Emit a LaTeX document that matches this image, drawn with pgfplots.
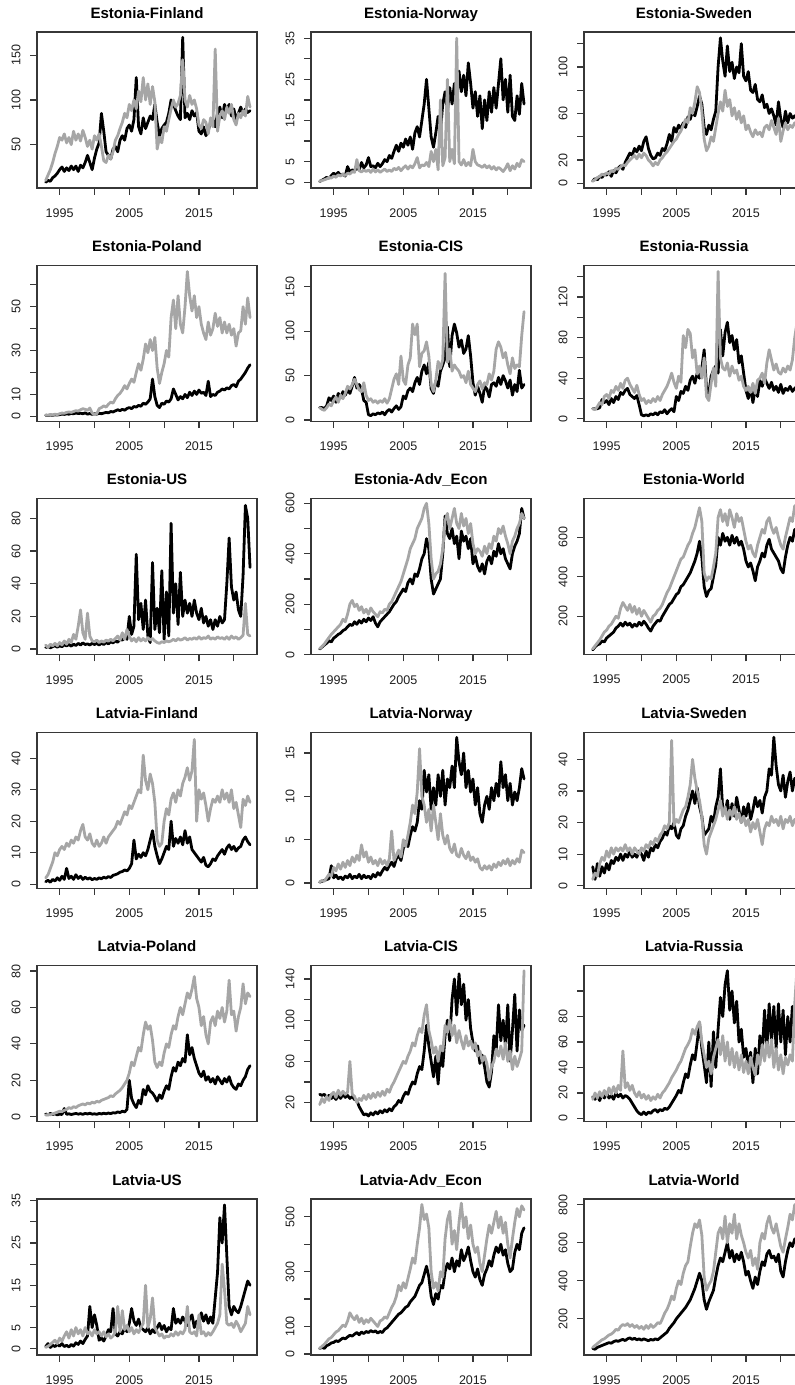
\documentclass[border=0pt]{standalone}
\usepackage{fontspec}
\setmainfont{Liberation Sans}
\usepackage{pgfplots}
\usepackage{pgfplotstable}
\pgfplotsset{compat=1.18}
\definecolor{lgray}{RGB}{166,166,166}
\definecolor{frm}{RGB}{55,55,55}

% t = months since Jan 1993; a = black series; b = grey series
\pgfplotstableread{
t a b
0 8 10
4 10 16
8 9 22
12 13 30
16 15 40
20 18 48
24 22 58
28 25 55
32 20 62
36 24 52
40 21 58
44 26 50
48 22 65
52 26 55
56 20 62
60 27 54
64 24 66
68 30 58
72 38 48
76 30 55
80 22 45
84 35 60
88 45 55
92 52 62
96 85 48
100 65 32
104 42 30
108 38 38
112 34 34
116 45 42
120 48 55
124 42 60
128 55 68
132 60 75
136 55 85
140 68 80
144 72 95
148 65 88
152 78 100
156 125 90
160 70 110
164 62 98
168 80 125
172 68 100
176 75 118
180 82 95
184 78 115
188 95 98
192 75 45
196 60 58
200 68 52
204 72 70
208 75 65
212 85 78
216 100 90
220 95 100
224 88 92
228 82 96
232 78 105
236 170 145
240 80 100
244 85 92
248 78 105
252 88 95
256 82 100
260 86 90
264 65 72
268 62 68
272 70 78
276 60 75
280 66 62
284 75 80
288 78 70
292 70 157
296 85 65
300 92 82
304 80 88
308 95 78
312 88 92
316 95 85
320 82 95
324 90 78
328 78 72
332 85 85
336 92 80
340 84 88
344 90 82
348 86 104
352 88 92
}\tEF

\pgfplotstableread{
t a b
0 0.2 0.3
4 0.5 0.4
8 0.8 0.6
12 1.2 0.8
16 1.0 1.2
20 1.6 1.0
24 2.2 1.5
28 1.8 1.2
32 2.4 1.8
36 1.6 1.5
40 2.0 2.0
44 1.5 1.6
48 3.8 2.2
52 2.5 2.0
56 3.0 2.6
60 2.8 2.4
64 3.5 5.5
68 3.0 2.8
72 4.8 2.5
76 3.5 3.0
80 4.2 2.6
84 6.0 3.0
88 3.8 2.4
92 4.0 3.2
96 3.5 2.5
100 4.6 3.0
104 3.8 2.4
108 4.5 2.8
112 5.5 3.2
116 5.0 2.6
120 6.5 3.0
124 5.8 2.6
128 7.5 3.4
132 9.0 3.0
136 7.5 3.6
140 9.5 2.8
144 8.5 3.5
148 10.5 4.0
152 9.0 3.2
156 11.0 4.0
160 8.0 3.5
164 12.0 4.5
168 13.5 6.0
172 11.0 3.5
176 15.0 4.2
180 19.0 4.0
184 25.0 4.8
188 18.0 3.8
192 11.0 7.5
196 8.5 5.0
200 12.0 8.0
204 16.0 3.0
208 12.5 20.0
212 19.0 4.0
216 22.0 6.0
220 17.0 25.0
224 23.0 5.0
228 19.0 8.0
232 24.0 4.5
236 20.0 35.0
240 27.0 5.0
244 22.0 4.2
248 26.0 5.5
252 21.0 4.0
256 29.0 4.8
260 24.0 4.0
264 18.0 8.0
268 22.0 5.0
272 16.0 4.2
276 21.0 4.0
280 13.0 3.6
284 20.0 4.2
288 15.0 3.5
292 22.0 4.0
296 17.0 3.2
300 23.0 3.8
304 18.0 3.0
308 24.0 3.6
312 30.0 3.2
316 20.0 2.6
320 25.0 3.4
324 17.0 4.5
328 26.0 2.8
332 16.0 4.0
336 15.0 3.2
340 21.0 4.6
344 16.5 3.8
348 24.0 5.5
352 19.0 5.0
}\tEN

\pgfplotstableread{
t a b
0 2 2
4 4 3
8 3 5
12 6 6
16 5 8
20 8 7
24 7 9
28 10 8
32 6 11
36 11 10
40 9 13
44 13 12
48 15 14
52 12 16
56 18 15
60 22 18
64 26 20
68 24 22
72 30 24
76 27 21
80 32 25
84 28 22
88 36 26
92 40 24
96 30 20
100 24 18
104 21 15
108 22 18
112 26 16
116 24 20
120 30 22
124 28 25
128 34 27
132 42 30
136 36 33
140 48 36
144 44 38
148 50 42
152 47 45
156 52 50
160 48 55
164 57 52
168 55 65
172 62 60
176 58 70
180 66 83
184 75 78
188 68 62
192 48 38
196 42 28
200 50 32
204 46 40
208 55 36
212 62 48
216 100 60
220 125 70
224 105 62
228 92 80
232 118 66
236 96 72
240 104 58
244 90 65
248 100 55
252 95 62
256 120 52
260 92 58
264 88 46
268 96 50
272 80 44
276 78 40
280 85 46
284 72 42
288 70 44
292 76 40
296 65 48
300 68 50
304 60 46
308 64 54
312 58 48
316 50 42
320 70 56
324 55 36
328 48 45
332 62 52
336 52 46
340 60 50
344 56 48
348 58 52
352 55 50
}\tES

\pgfplotstableread{
t a b
0 0.5 0.6
4 0.4 0.5
8 0.6 0.8
12 0.5 0.7
16 0.7 1.0
20 0.6 0.8
24 0.8 1.2
28 1.0 1.5
32 0.9 1.4
36 1.1 1.8
40 1.0 2.0
44 1.3 1.8
48 1.2 2.2
52 1.5 2.6
56 1.3 2.4
60 1.4 3.0
64 1.2 3.5
68 1.6 3.2
72 1.0 2.8
76 1.3 3.8
80 0.9 1.5
84 1.2 0.8
88 1.0 1.2
92 1.4 3.5
96 1.2 4.0
100 1.5 4.8
104 1.8 4.2
108 1.6 5.5
112 2.2 6.5
116 2.0 6.0
120 2.5 8.0
124 3.0 9.5
128 2.6 10.5
132 3.2 12.0
136 2.8 14.0
140 3.6 12.5
144 4.0 15.0
148 3.5 17.0
152 4.5 15.5
156 4.2 20.0
160 5.0 24.0
164 4.6 21.0
168 6.0 26.0
172 5.5 33.0
176 6.5 29.0
180 8.0 35.0
184 17.0 30.0
188 9.0 36.0
192 5.0 22.0
196 4.0 15.0
200 6.0 20.0
204 5.5 24.0
208 7.0 30.0
212 6.5 27.0
216 8.0 45.0
220 12.5 53.0
224 10.0 40.0
228 7.5 55.0
232 9.0 42.0
236 8.0 38.0
240 10.0 50.0
244 8.5 66.0
248 11.0 55.0
252 9.5 48.0
256 11.5 55.0
260 10.0 45.0
264 12.0 50.0
268 10.5 42.0
272 11.0 38.0
276 9.5 35.0
280 16.0 43.0
284 9.0 37.0
288 10.0 40.0
292 9.5 47.0
296 11.0 41.0
300 11.5 45.0
304 12.5 38.0
308 12.0 43.0
312 13.0 38.0
316 12.5 42.0
320 14.0 37.0
324 14.5 40.0
328 13.5 32.0
332 16.0 38.0
336 17.0 39.0
340 18.5 50.0
344 20.0 42.0
348 22.0 54.0
352 23.5 45.0
}\tEP

\pgfplotstableread{
t a b
0 14 14
4 14 12
8 13 11
12 16 14
16 25 18
20 22 16
24 27 22
28 20 26
32 30 20
36 25 28
40 32 24
44 28 30
48 34 38
52 30 35
56 38 40
60 48 46
64 36 40
68 40 34
72 35 32
76 22 42
80 20 28
84 6 22
88 5 24
92 7 20
96 6 22
100 8 19
104 7 22
108 9 20
112 6 24
116 10 19
120 12 24
124 9 35
128 13 46
132 16 52
136 12 40
140 15 72
144 27 45
148 24 40
152 33 62
156 36 70
160 32 108
164 42 96
168 48 108
172 40 60
176 55 75
180 62 78
184 52 88
188 65 72
192 35 40
196 30 32
200 44 45
204 38 66
208 55 58
212 62 68
216 70 165
220 105 65
224 60 80
228 95 55
232 108 62
236 98 58
240 82 55
244 90 48
248 75 50
252 80 42
256 95 55
260 72 40
264 42 36
268 28 32
272 38 40
276 30 44
280 20 35
284 38 42
288 35 40
292 26 52
296 40 45
300 42 55
304 38 80
308 48 88
312 40 82
316 50 70
320 44 76
324 36 62
328 45 52
332 28 70
336 40 58
340 32 62
344 56 60
348 36 95
352 40 122
}\tEC

\pgfplotstableread{
t a b
0 10 10
4 10 9
8 10 12
12 11 16
16 19 14
20 16 22
24 18 24
28 14 20
32 20 28
36 16 26
40 22 32
44 19 28
48 26 35
52 24 30
56 28 38
60 30 40
64 24 34
68 22 30
72 20 26
76 23 33
80 14 24
84 4 18
88 3 20
92 4 15
96 3 18
100 5 16
104 4 20
108 6 17
112 4 22
116 7 18
120 6 24
124 9 28
128 5 32
132 8 38
136 10 45
140 7 36
144 22 30
148 18 42
152 27 36
156 25 82
160 32 70
164 28 88
168 38 84
172 42 60
176 35 68
180 45 44
184 40 52
188 50 40
192 68 60
196 30 22
200 25 18
204 42 35
208 48 50
212 52 32
216 45 145
220 88 60
224 62 50
228 85 48
232 95 55
236 75 42
240 82 52
244 68 45
248 78 48
252 55 38
256 62 42
260 45 32
264 28 28
268 20 32
272 30 26
276 16 35
280 30 25
284 22 38
288 38 40
292 32 45
296 40 35
300 35 55
304 30 68
308 36 58
312 28 48
316 32 54
320 26 46
324 34 44
328 25 50
332 30 46
336 28 52
340 32 48
344 27 58
348 30 80
352 32 95
}\tER

\pgfplotstableread{
t a b
0 1.0 2.5
4 1.5 1.0
8 0.8 3.0
12 1.5 2.0
16 2.0 3.5
20 1.2 2.0
24 2.0 4.0
28 1.5 2.5
32 2.5 5.0
36 2.0 3.0
40 2.8 6.0
44 1.8 4.0
48 3.0 9.0
52 2.2 6.0
56 3.5 14.0
60 2.5 24.0
64 3.8 10.0
68 2.8 6.0
72 3.2 22.0
76 2.5 8.0
80 3.5 5.0
84 2.8 4.5
88 3.5 5.5
92 2.5 4.0
96 3.6 5.0
100 2.8 4.2
104 4.0 5.5
108 3.2 4.8
112 4.5 6.0
116 3.8 5.0
120 5.0 6.5
124 4.2 8.0
128 6.0 5.5
132 5.5 10.0
136 7.0 6.0
140 6.0 12.0
144 20.0 8.0
148 9.0 5.0
152 14.0 6.5
156 58.0 4.5
160 18.0 7.0
164 28.0 5.0
168 12.0 6.5
172 30.0 5.0
176 8.0 7.0
180 4.0 5.5
184 53.0 6.5
188 12.0 5.0
192 25.0 4.0
196 10.0 3.5
200 48.0 4.5
204 6.0 4.0
208 35.0 5.0
212 8.0 4.5
216 77.0 5.0
220 22.0 6.0
224 40.0 5.0
228 15.0 6.5
232 47.0 5.5
236 20.0 6.0
240 30.0 7.0
244 22.0 5.5
248 28.0 6.5
252 20.0 6.0
256 30.0 7.0
260 22.0 6.0
264 18.0 7.5
268 25.0 6.0
272 16.0 7.0
276 20.0 6.5
280 14.0 8.0
284 18.0 6.0
288 12.0 7.0
292 18.0 6.0
296 14.0 7.5
300 20.0 6.5
304 16.0 7.0
308 18.0 6.0
312 40.0 7.5
316 68.0 6.0
320 38.0 8.0
324 30.0 6.5
328 35.0 7.5
332 24.0 6.0
336 20.0 7.0
340 45.0 8.5
344 88.0 28.0
348 80.0 9.0
352 50.0 8.0
}\tEU

\pgfplotstableread{
t a b
0 22 24
4 30 32
8 38 42
12 45 55
16 55 68
20 50 80
24 65 90
28 72 100
32 80 110
36 85 120
40 95 140
44 100 130
48 110 160
52 120 200
56 115 215
60 130 190
64 120 200
68 135 175
72 125 190
76 140 165
80 130 180
84 145 160
88 135 185
92 150 170
96 125 160
100 110 150
104 130 170
108 140 165
112 150 180
116 160 175
120 170 200
124 185 210
128 200 230
132 210 250
136 230 270
140 245 290
144 260 320
148 250 350
152 285 380
156 300 420
160 280 440
164 320 460
168 310 500
172 340 520
176 380 540
180 400 580
184 460 600
188 420 520
192 300 380
196 240 300
200 260 320
204 280 330
208 300 360
212 400 420
216 550 530
220 480 560
224 460 500
228 500 540
232 440 580
236 470 520
240 380 500
244 490 560
248 450 510
252 470 540
256 420 480
260 460 520
264 360 440
268 390 400
272 350 420
276 330 410
280 360 390
284 320 430
288 370 400
292 390 440
296 360 420
300 410 470
304 390 450
308 440 500
312 400 480
316 420 510
320 380 470
324 360 440
328 340 400
332 400 450
336 430 470
340 450 500
344 480 520
348 580 560
352 540 540
}\tEA

\pgfplotstableread{
t a b
0 30 35
4 45 50
8 55 65
12 60 80
16 75 100
20 70 120
24 90 130
28 100 150
32 110 160
36 120 180
40 140 200
44 150 190
48 165 240
52 150 270
56 170 250
60 155 230
64 165 260
68 145 220
72 160 250
76 150 210
80 170 240
84 155 200
88 175 230
92 160 210
96 140 190
100 125 170
104 150 200
108 165 210
112 180 230
116 175 240
120 200 260
124 220 290
128 240 320
132 260 340
136 270 370
140 290 400
144 310 430
148 320 460
152 350 490
156 360 500
160 380 530
164 400 560
168 420 580
172 450 620
176 480 650
180 520 700
184 580 750
188 500 680
192 350 420
196 300 380
200 330 400
204 340 390
208 400 450
212 460 520
216 600 700
220 560 740
224 620 680
228 580 720
232 600 660
236 560 740
240 610 700
244 570 650
248 600 720
252 560 680
256 580 700
260 540 640
264 480 580
268 450 540
272 470 560
276 430 520
280 380 500
284 450 560
288 480 600
292 520 640
296 500 620
300 560 680
304 590 700
308 540 650
312 520 620
316 500 650
320 480 600
324 440 560
328 420 540
332 500 600
336 560 650
340 600 700
344 580 680
348 640 760
352 620 740
}\tEW

\pgfplotstableread{
t a b
0 0.8 2
4 1.2 3
8 0.6 5
12 1.5 7
16 1.0 10
20 2.0 9
24 1.2 11
28 2.5 12
32 1.5 11
36 5.0 13
40 1.8 12
44 2.5 14
48 1.5 13
52 3.0 15
56 1.8 14
60 2.5 17
64 1.5 19
68 2.2 15
72 1.6 14
76 2.0 16
80 1.4 13
84 1.8 12
88 1.5 14
92 2.0 12
96 1.7 13
100 2.2 15
104 1.9 13
108 2.4 15
112 2.1 16
116 2.8 17
120 3.0 18
124 3.3 20
128 3.8 19
132 4.0 21
136 4.5 23
140 4.2 22
144 5.0 25
148 6.5 24
152 14.0 26
156 8.0 28
160 9.5 30
164 8.5 29
168 10.0 41
172 9.0 33
176 11.0 30
180 14.0 35
184 17.0 32
188 12.0 26
192 9.0 14
196 6.5 12
200 8.0 13
204 10.0 20
208 12.0 24
212 11.0 22
216 20.0 27
220 12.0 29
224 14.5 26
228 13.0 30
232 15.0 28
236 12.5 32
240 17.0 34
244 13.0 37
248 15.0 33
252 11.0 36
256 10.0 46
260 9.0 20
264 8.0 30
268 7.0 27
272 8.5 29
276 6.0 25
280 5.5 20
284 6.5 24
288 8.0 27
292 7.5 26
296 9.0 28
300 10.0 26
304 11.0 30
308 9.5 27
312 11.5 29
316 12.5 26
320 11.0 30
324 12.0 24
328 10.5 26
332 11.5 22
336 12.0 18
340 14.0 27
344 15.0 25
348 13.5 28
352 12.5 26
}\tLF

\pgfplotstableread{
t a b
0 0.1 0.1
4 0.2 0.3
8 0.3 0.2
12 0.4 0.6
16 0.5 1.0
20 2.0 0.8
24 0.6 1.8
28 0.9 1.4
32 0.5 2.2
36 0.7 1.6
40 0.4 2.4
44 0.8 1.8
48 0.6 2.6
52 1.0 2.0
56 0.5 3.0
60 0.8 2.4
64 0.6 3.2
68 1.0 2.6
72 0.5 4.4
76 0.9 3.0
80 0.6 3.6
84 0.8 2.4
88 0.5 3.0
92 1.0 2.2
96 0.7 2.6
100 1.2 2.0
104 0.9 2.8
108 1.4 2.2
112 1.8 2.6
116 1.5 2.0
120 2.0 2.8
124 2.4 6.0
128 1.9 2.6
132 2.8 3.2
136 3.2 3.8
140 2.6 3.0
144 4.0 5.0
148 4.8 4.2
152 4.2 5.5
156 5.5 7.0
160 6.5 9.0
164 6.0 8.0
168 7.0 10.5
172 9.5 15.5
176 8.5 10.0
180 13.0 9.0
184 10.5 7.0
188 12.5 8.5
192 8.5 6.0
196 11.0 9.0
200 9.0 7.0
204 12.5 5.0
208 10.0 8.0
212 13.0 5.5
216 9.0 4.5
220 12.0 5.5
224 11.0 4.0
228 13.5 3.5
232 11.0 4.5
236 16.8 3.2
240 14.0 3.0
244 12.5 4.0
248 15.0 3.2
252 11.0 2.8
256 13.0 3.6
260 10.5 2.6
264 12.0 3.0
268 9.0 2.4
272 11.0 2.8
276 8.0 1.8
280 7.0 1.5
284 9.0 2.0
288 10.0 1.6
292 8.5 2.0
296 11.0 1.5
300 9.5 2.2
304 11.5 1.8
308 10.0 2.4
312 14.0 2.0
316 11.0 2.6
320 12.5 2.2
324 9.5 2.8
328 11.5 2.0
332 9.0 2.6
336 10.5 2.2
340 9.5 2.8
344 11.0 2.4
348 13.2 3.8
352 12.0 3.5
}\tLN

\pgfplotstableread{
t a b
0 6 2
4 2 4
8 7 3
12 3 7
16 6 9
20 4 8
24 7 11
28 5 9
32 8 12
36 7 10
40 9 12
44 8 11
48 10 12
52 8 11
56 10 13
60 9 11
64 11 12
68 9 10
72 10 12
76 9 11
80 11 10
84 10 12
88 8 11
92 11 13
96 9 12
100 12 14
104 11 13
108 13 15
112 12 14
116 14 16
120 15 17
124 17 19
128 16 18
132 19 20
136 18 46
140 20 19
144 16 21
148 15 20
152 18 22
156 19 24
160 22 25
164 24 28
168 27 32
172 30 40
176 26 34
180 31 30
184 25 27
188 22 22
192 16 13
196 17 10
200 18 15
204 22 17
208 20 19
212 25 21
216 28 24
220 37 27
224 24 22
228 23 25
232 27 21
236 21 24
240 26 22
244 22 25
248 28 21
252 24 23
256 20 20
260 25 22
264 22 19
268 26 21
272 21 17
276 24 20
280 28 18
284 25 21
288 27 17
292 23 13
296 28 18
300 30 20
304 37 19
308 35 22
312 47 20
316 38 21
320 32 19
324 30 22
328 35 18
332 28 21
336 33 20
340 36 22
344 30 19
348 34 21
352 32 20
}\tLS

\pgfplotstableread{
t a b
0 1.5 0.8
4 1.0 1.2
8 1.8 1.0
12 1.2 1.5
16 1.6 2.0
20 1.0 2.5
24 1.4 3.0
28 1.2 2.8
32 4.5 3.5
36 1.3 4.0
40 1.6 5.0
44 1.2 4.5
48 1.5 5.5
52 1.8 5.0
56 1.4 6.0
60 1.7 6.5
64 1.3 7.0
68 1.8 6.5
72 1.5 7.5
76 1.9 7.0
80 1.4 8.0
84 1.6 7.5
88 1.3 8.5
92 1.8 8.0
96 1.5 9.0
100 1.9 9.5
104 1.6 10.0
108 2.0 10.5
112 1.7 11.5
116 2.2 11.0
120 2.0 12.5
124 2.6 13.5
128 2.3 14.5
132 3.0 16.0
136 2.6 18.0
140 4.0 20.0
144 20.0 24.0
148 10.0 30.0
152 7.0 28.0
156 5.0 33.0
160 9.0 38.0
164 7.0 36.0
168 15.0 45.0
172 12.0 52.0
176 17.0 48.0
180 14.0 50.0
184 13.0 42.0
188 11.0 30.0
192 8.5 27.0
196 12.0 30.0
200 10.0 28.0
204 14.0 35.0
208 17.0 40.0
212 15.0 38.0
216 22.0 45.0
220 27.0 50.0
224 25.0 48.0
228 30.0 55.0
232 28.0 60.0
236 32.0 56.0
240 30.0 62.0
244 45.0 68.0
248 34.0 65.0
252 38.0 70.0
256 32.0 77.0
260 28.0 65.0
264 24.0 60.0
268 22.0 50.0
272 25.0 55.0
276 20.0 45.0
280 22.0 40.0
284 19.0 52.0
288 21.0 55.0
292 18.0 50.0
296 22.0 58.0
300 20.0 54.0
304 18.0 60.0
308 21.0 52.0
312 19.0 58.0
316 22.0 75.0
320 18.0 56.0
324 16.0 58.0
328 15.0 47.0
332 18.0 55.0
336 17.0 60.0
340 20.0 73.0
344 22.0 62.0
348 26.0 68.0
352 28.0 66.0
}\tLP

\pgfplotstableread{
t a b
0 28 18
4 27 24
8 28 20
12 25 26
16 27 22
20 24 28
24 26 30
28 23 25
32 27 32
36 24 27
40 28 31
44 25 28
48 27 30
52 24 60
56 26 28
60 23 26
64 22 20
68 16 24
72 12 22
76 8 27
80 9 23
84 7 28
88 10 24
92 8 29
96 11 25
100 9 30
104 12 26
108 10 31
112 13 27
116 11 33
120 14 30
124 12 36
128 16 40
132 18 45
136 22 50
140 20 55
144 26 60
148 30 58
152 28 65
156 35 70
160 40 78
164 38 75
168 48 85
172 55 92
176 52 88
180 70 105
184 95 115
188 75 90
192 60 80
196 45 68
200 65 74
204 38 60
208 70 75
212 55 70
216 85 95
220 100 88
224 80 100
228 120 85
232 140 95
236 105 78
240 145 90
244 115 80
248 135 72
252 100 85
256 120 75
260 92 80
264 78 72
268 70 78
272 75 65
276 58 70
280 66 60
284 55 65
288 40 58
292 35 42
296 50 55
300 85 60
304 70 72
308 115 65
312 80 75
316 100 62
320 75 78
324 115 60
328 60 70
332 90 52
336 125 65
340 70 55
344 110 62
348 90 70
352 95 148
}\tLC

\pgfplotstableread{
t a b
0 17 15
4 15 20
8 18 16
12 14 21
16 19 17
20 16 22
24 20 18
28 16 24
32 18 19
36 15 25
40 20 20
44 17 26
48 19 22
52 16 53
56 18 24
60 17 28
64 15 22
68 12 26
72 9 20
76 6 17
80 4 21
84 3 16
88 5 19
92 3 15
96 5 18
100 4 14
104 6 17
108 7 15
112 5 19
116 7 16
120 6 20
124 8 22
128 7 25
132 9 28
136 12 32
140 15 35
144 18 38
148 22 42
152 20 45
156 28 50
160 35 55
164 32 58
168 42 62
172 50 70
176 46 66
180 60 72
184 75 76
188 55 60
192 42 50
196 28 40
200 60 45
204 25 35
208 68 48
212 40 55
216 70 62
220 95 50
224 80 65
228 105 45
232 116 60
236 85 42
240 100 55
244 75 40
248 92 52
252 60 38
256 70 50
260 48 36
264 55 45
268 40 35
272 52 48
276 28 40
280 55 34
284 35 50
288 65 42
292 50 58
296 85 45
300 55 60
304 90 48
308 60 62
312 88 40
316 55 55
320 90 38
324 60 50
328 85 35
332 50 48
336 80 42
340 60 50
344 88 45
348 70 90
352 75 118
}\tLR

\pgfplotstableread{
t a b
0 0.5 0.3
4 1.2 0.6
8 0.3 1.0
12 0.8 1.5
16 0.5 2.0
20 1.0 1.2
24 0.6 2.5
28 1.2 1.8
32 0.5 3.0
36 0.8 4.0
40 0.4 2.5
44 1.0 4.5
48 0.6 3.0
52 1.4 5.0
56 1.0 3.5
60 1.8 4.5
64 1.2 3.0
68 2.2 5.0
72 3.0 3.5
76 10.0 4.0
80 5.0 3.0
84 8.0 4.5
88 5.5 3.5
92 2.0 4.0
96 2.5 3.0
100 1.8 4.0
104 3.0 2.8
108 4.5 3.5
112 4.0 2.5
116 9.5 3.0
120 3.5 4.0
124 3.0 10.0
128 4.0 4.0
132 3.5 9.0
136 5.0 4.5
140 4.0 5.5
144 6.0 4.0
148 9.5 5.0
152 6.5 3.5
156 5.5 4.5
160 7.0 3.8
164 5.0 5.0
168 4.5 6.0
172 4.0 15.0
176 5.0 5.0
180 3.5 7.0
184 4.5 12.0
188 3.8 5.0
192 5.0 4.0
196 6.0 3.0
200 4.5 3.5
204 5.5 2.5
208 4.0 3.0
212 5.0 2.8
216 4.5 3.5
220 9.5 3.0
224 6.0 4.0
228 7.0 3.2
232 6.0 4.0
236 7.5 3.5
240 6.5 4.5
244 5.5 10.0
248 7.0 4.0
252 8.0 3.5
256 5.0 4.0
260 6.5 3.0
264 6.0 8.0
268 8.5 3.5
272 6.5 4.0
276 8.0 3.0
280 6.0 3.8
284 7.5 3.2
288 6.0 4.0
292 12.0 5.0
296 18.0 6.0
300 31.0 8.0
304 25.0 20.0
308 34.0 14.0
312 22.0 6.0
316 10.0 5.5
320 8.0 6.0
324 10.0 5.0
328 9.0 6.5
332 8.5 5.5
336 10.0 4.0
340 12.0 5.0
344 14.0 6.0
348 16.0 10.0
352 15.0 8.0
}\tLU

\pgfplotstableread{
t a b
0 20 20
4 24 28
8 20 35
12 30 45
16 34 55
20 40 60
24 42 70
28 48 80
32 45 85
36 52 95
40 58 105
44 55 100
48 62 120
52 68 150
56 65 135
60 72 125
64 78 140
68 70 115
72 80 130
76 74 110
80 82 125
84 78 115
88 85 130
92 80 120
96 84 110
100 76 100
104 82 120
108 78 125
112 90 135
116 95 130
120 105 150
124 115 170
128 125 185
132 135 210
136 145 250
140 150 230
144 160 260
148 170 240
152 175 275
156 190 310
160 200 350
164 210 330
168 230 400
172 250 460
176 260 545
180 290 490
184 320 510
188 280 460
192 210 300
196 180 240
200 220 260
204 200 230
208 250 300
212 240 280
216 300 420
220 330 490
224 310 520
228 350 400
232 300 450
236 340 380
240 320 480
244 380 550
248 340 460
252 360 500
256 390 420
260 340 470
264 300 400
268 280 370
272 310 390
276 270 330
280 250 300
284 290 360
288 310 420
292 340 470
296 320 440
300 360 480
304 390 520
308 370 460
312 400 500
316 360 440
320 380 480
324 330 400
328 300 350
332 310 420
336 370 480
340 400 530
344 380 500
348 440 540
352 460 525
}\tLA

\pgfplotstableread{
t a b
0 45 50
4 40 60
8 50 70
12 55 80
16 60 90
20 65 95
24 70 105
28 75 115
32 72 120
36 80 130
40 85 145
44 82 140
48 88 160
52 92 170
56 86 165
60 95 175
64 100 160
68 92 170
72 98 155
76 90 165
80 95 150
84 88 160
88 95 145
92 90 165
96 85 150
100 92 170
104 88 155
108 95 165
112 90 180
116 100 175
120 110 200
124 120 230
128 130 250
132 150 280
136 165 320
140 180 300
144 200 360
148 215 400
152 230 380
156 245 440
160 260 480
164 280 500
168 300 580
172 330 650
176 360 700
180 400 680
184 440 720
188 400 640
192 300 420
196 250 350
200 290 380
204 320 400
208 350 450
212 420 550
216 480 650
220 520 680
224 500 620
228 550 740
232 600 600
236 520 700
240 560 650
244 500 750
248 540 620
252 510 700
256 550 640
260 500 600
264 430 550
268 450 520
272 400 560
276 360 480
280 420 520
284 380 460
288 450 600
292 500 650
296 480 620
300 540 700
304 560 740
308 520 680
312 530 650
316 500 700
320 540 640
324 450 580
328 420 550
332 500 620
336 560 680
340 600 750
344 580 720
348 620 800
352 610 790
}\tLW

\pgfplotsset{
  rpanel/.style={
    scale only axis, width=165pt, height=117pt,
    anchor=north west,
    xmin=-15, xmax=364,
    xtick={24,84,144,204,264,324},
    xticklabels={1995,,2005,,2015,},
    tick align=outside, xtick pos=bottom, ytick pos=left,
    major tick length=5pt,
    axis line style={line width=1pt, frm},
    every tick/.style={line width=0.9pt, frm},
    ticklabel style={font=\fontsize{9.4}{10}\selectfont, text=black!88},
    xticklabel style={yshift=-6.8pt},
    yticklabel style={rotate=90, anchor=south, yshift=3.8pt},
    title style={font=\bfseries\fontsize{11.3}{13}\selectfont, at={(0.5,1)}, anchor=base, yshift=4.5pt},
  },
  bl/.style={black, line width=2.1pt, line join=round, line cap=round},
  gr/.style={lgray, line width=2.1pt, line join=round, line cap=round},
}

\begin{document}
\begin{tikzpicture}
\useasboundingbox (0pt,0pt) rectangle (595.5pt,-1038.75pt);

% ---------- row 1 ----------
\begin{axis}[rpanel, at={(27.75pt,-24pt)}, title={Estonia-Finland},
  ymin=1.5, ymax=176, ytick={50,100,150}, yticklabels={50,100,150}]
\addplot[bl] table[x=t,y=a]{\tEF};
\addplot[gr] table[x=t,y=b]{\tEF};
\end{axis}
\begin{axis}[rpanel, at={(233.25pt,-24pt)}, title={Estonia-Norway},
  ymin=-1.4, ymax=36.5, ytick={0,5,10,15,20,25,30,35}, yticklabels={0,5,,15,,25,,35}]
\addplot[bl] table[x=t,y=a]{\tEN};
\addplot[gr] table[x=t,y=b]{\tEN};
\end{axis}
\begin{axis}[rpanel, at={(438pt,-24pt)}, title={Estonia-Sweden},
  ymin=-4, ymax=130, ytick={0,20,40,60,80,100,120}, yticklabels={0,20,,60,,100,}]
\addplot[bl] table[x=t,y=a]{\tES};
\addplot[gr] table[x=t,y=b]{\tES};
\end{axis}

% ---------- row 2 ----------
\begin{axis}[rpanel, at={(27.75pt,-199.05pt)}, title={Estonia-Poland},
  ymin=-2.3, ymax=68.8, ytick={0,10,20,30,40,50,60}, yticklabels={0,10,,30,,50,}]
\addplot[bl] table[x=t,y=a]{\tEP};
\addplot[gr] table[x=t,y=b]{\tEP};
\end{axis}
\begin{axis}[rpanel, at={(233.25pt,-199.05pt)}, title={Estonia-CIS},
  ymin=-1.5, ymax=174, ytick={0,50,100,150}, yticklabels={0,50,100,150}]
\addplot[bl] table[x=t,y=a]{\tEC};
\addplot[gr] table[x=t,y=b]{\tEC};
\end{axis}
\begin{axis}[rpanel, at={(438pt,-199.05pt)}, title={Estonia-Russia},
  ymin=-2.5, ymax=151, ytick={0,20,40,60,80,100,120,140}, yticklabels={0,,40,,80,,120,}]
\addplot[bl] table[x=t,y=a]{\tER};
\addplot[gr] table[x=t,y=b]{\tER};
\end{axis}

% ---------- row 3 ----------
\begin{axis}[rpanel, at={(27.75pt,-374.1pt)}, title={Estonia-US},
  ymin=-3.5, ymax=92, ytick={0,20,40,60,80}, yticklabels={0,20,40,60,80}]
\addplot[bl] table[x=t,y=a]{\tEU};
\addplot[gr] table[x=t,y=b]{\tEU};
\end{axis}
\begin{axis}[rpanel, at={(233.25pt,-374.1pt)}, title={Estonia-Adv\_Econ},
  ymin=-1, ymax=618, ytick={0,100,200,300,400,500,600}, yticklabels={0,,200,,400,,600}]
\addplot[bl] table[x=t,y=a]{\tEA};
\addplot[gr] table[x=t,y=b]{\tEA};
\end{axis}
\begin{axis}[rpanel, at={(438pt,-374.1pt)}, title={Estonia-World},
  ymin=5, ymax=795, ytick={200,400,600}, yticklabels={200,400,600}]
\addplot[bl] table[x=t,y=a]{\tEW};
\addplot[gr] table[x=t,y=b]{\tEW};
\end{axis}

% ---------- row 4 ----------
\begin{axis}[rpanel, at={(27.75pt,-549.15pt)}, title={Latvia-Finland},
  ymin=-1.3, ymax=48.3, ytick={0,10,20,30,40}, yticklabels={0,10,20,30,40}]
\addplot[bl] table[x=t,y=a]{\tLF};
\addplot[gr] table[x=t,y=b]{\tLF};
\end{axis}
\begin{axis}[rpanel, at={(233.25pt,-549.15pt)}, title={Latvia-Norway},
  ymin=-0.6, ymax=17.4, ytick={0,5,10,15}, yticklabels={0,5,10,15}]
\addplot[bl] table[x=t,y=a]{\tLN};
\addplot[gr] table[x=t,y=b]{\tLN};
\end{axis}
\begin{axis}[rpanel, at={(438pt,-549.15pt)}, title={Latvia-Sweden},
  ymin=-0.8, ymax=48.6, ytick={0,10,20,30,40}, yticklabels={0,10,20,30,40}]
\addplot[bl] table[x=t,y=a]{\tLS};
\addplot[gr] table[x=t,y=b]{\tLS};
\end{axis}

% ---------- row 5 ----------
\begin{axis}[rpanel, at={(27.75pt,-724.2pt)}, title={Latvia-Poland},
  ymin=-2.7, ymax=83, ytick={0,20,40,60,80}, yticklabels={0,20,40,60,80}]
\addplot[bl] table[x=t,y=a]{\tLP};
\addplot[gr] table[x=t,y=b]{\tLP};
\end{axis}
\begin{axis}[rpanel, at={(233.25pt,-724.2pt)}, title={Latvia-CIS},
  ymin=1.5, ymax=153, ytick={20,40,60,80,100,120,140}, yticklabels={20,,60,,100,,140}]
\addplot[bl] table[x=t,y=a]{\tLC};
\addplot[gr] table[x=t,y=b]{\tLC};
\end{axis}
\begin{axis}[rpanel, at={(438pt,-724.2pt)}, title={Latvia-Russia},
  ymin=-2.5, ymax=120, ytick={0,20,40,60,80,100}, yticklabels={0,20,40,60,80,}]
\addplot[bl] table[x=t,y=a]{\tLR};
\addplot[gr] table[x=t,y=b]{\tLR};
\end{axis}

% ---------- row 6 ----------
\begin{axis}[rpanel, at={(27.75pt,-899.25pt)}, title={Latvia-US},
  ymin=-1.5, ymax=35.4, ytick={0,5,10,15,20,25,30,35}, yticklabels={0,5,,15,,25,,35}]
\addplot[bl] table[x=t,y=a]{\tLU};
\addplot[gr] table[x=t,y=b]{\tLU};
\end{axis}
\begin{axis}[rpanel, at={(233.25pt,-899.25pt)}, title={Latvia-Adv\_Econ},
  ymin=-4, ymax=565, ytick={0,100,200,300,400,500}, yticklabels={0,100,,300,,500}]
\addplot[bl] table[x=t,y=a]{\tLA};
\addplot[gr] table[x=t,y=b]{\tLA};
\end{axis}
\begin{axis}[rpanel, at={(438pt,-899.25pt)}, title={Latvia-World},
  ymin=10, ymax=830, ytick={200,400,600,800}, yticklabels={200,400,600,800}]
\addplot[bl] table[x=t,y=a]{\tLW};
\addplot[gr] table[x=t,y=b]{\tLW};
\end{axis}
\end{tikzpicture}
\end{document}
